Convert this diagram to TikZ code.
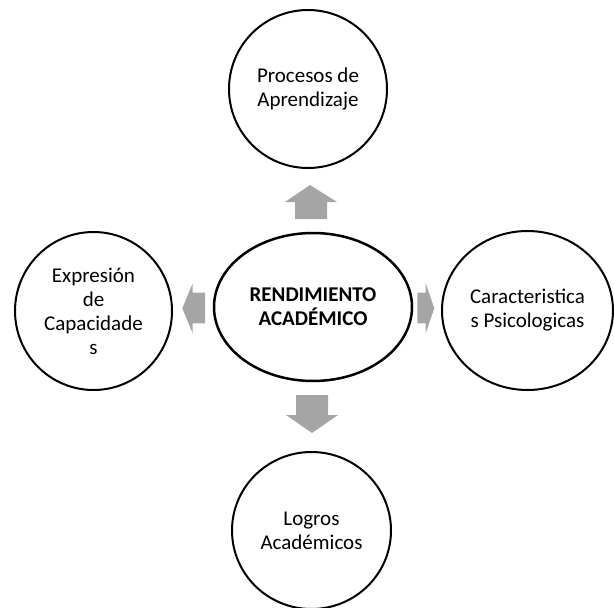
\documentclass[tikz,border=0pt]{standalone}
\usepackage{fontspec}
\setmainfont{Carlito}
\usepackage{xcolor}
\usetikzlibrary{shapes.geometric}
\definecolor{flecha}{HTML}{A5A5A5}
\tikzset{
	circulo/.style={ellipse,draw=black,line width=2pt,inner sep=0pt,align=center,
		font=\fontsize{21}{24}\selectfont},
	centro/.style={circulo,line width=2.5pt,font=\fontsize{21}{24}\selectfont\bfseries},
	bloque/.style={fill=flecha,draw=none}
}

\begin{document}
\begin{tikzpicture}[x=1pt,y=-1pt]
				\useasboundingbox (0,0) rectangle (614,608);
				\node[centro,minimum width=198pt,minimum height=148pt] (R) at (313,307) {RENDIMIENTO\\ACADÉMICO};
				\node[circulo,minimum width=158pt,minimum height=158pt] (P) at (308,89) {Procesos de\\Aprendizaje};
				\node[circulo,minimum width=157pt,minimum height=158pt] (E) at (93.5,311) {Expresión\\de\\Capacidade\\s};
				\node[circulo,minimum width=171pt,minimum height=159pt] (C) at (527.5,310.5) {Caracteristica\\s Psicologicas};
				\node[circulo,minimum width=159pt,minimum height=157pt] (L) at (311.5,530.5) {Logros\\Académicos};
				\fill[bloque] (295,219) -- (295,202) -- (285,202) -- (310,185) -- (337,202) -- (327,202) -- (327,219) -- cycle;
				\fill[bloque] (296,395) -- (296,415) -- (286,415) -- (312,433) -- (338,415) -- (328,415) -- (328,395) -- cycle;
				\fill[bloque] (205,292.7) -- (192.7,292.7) -- (192.7,283.3) -- (182.3,308.3) -- (192.7,333.3) -- (192.7,323.3) -- (205,323.3) -- cycle;
				\fill[bloque] (417.3,292.7) -- (425.7,292.7) -- (425.7,283.3) -- (434.3,308.3) -- (425.7,333.3) -- (425.7,323.3) -- (417.3,323.3) -- cycle;
			\end{tikzpicture}
\end{document}
